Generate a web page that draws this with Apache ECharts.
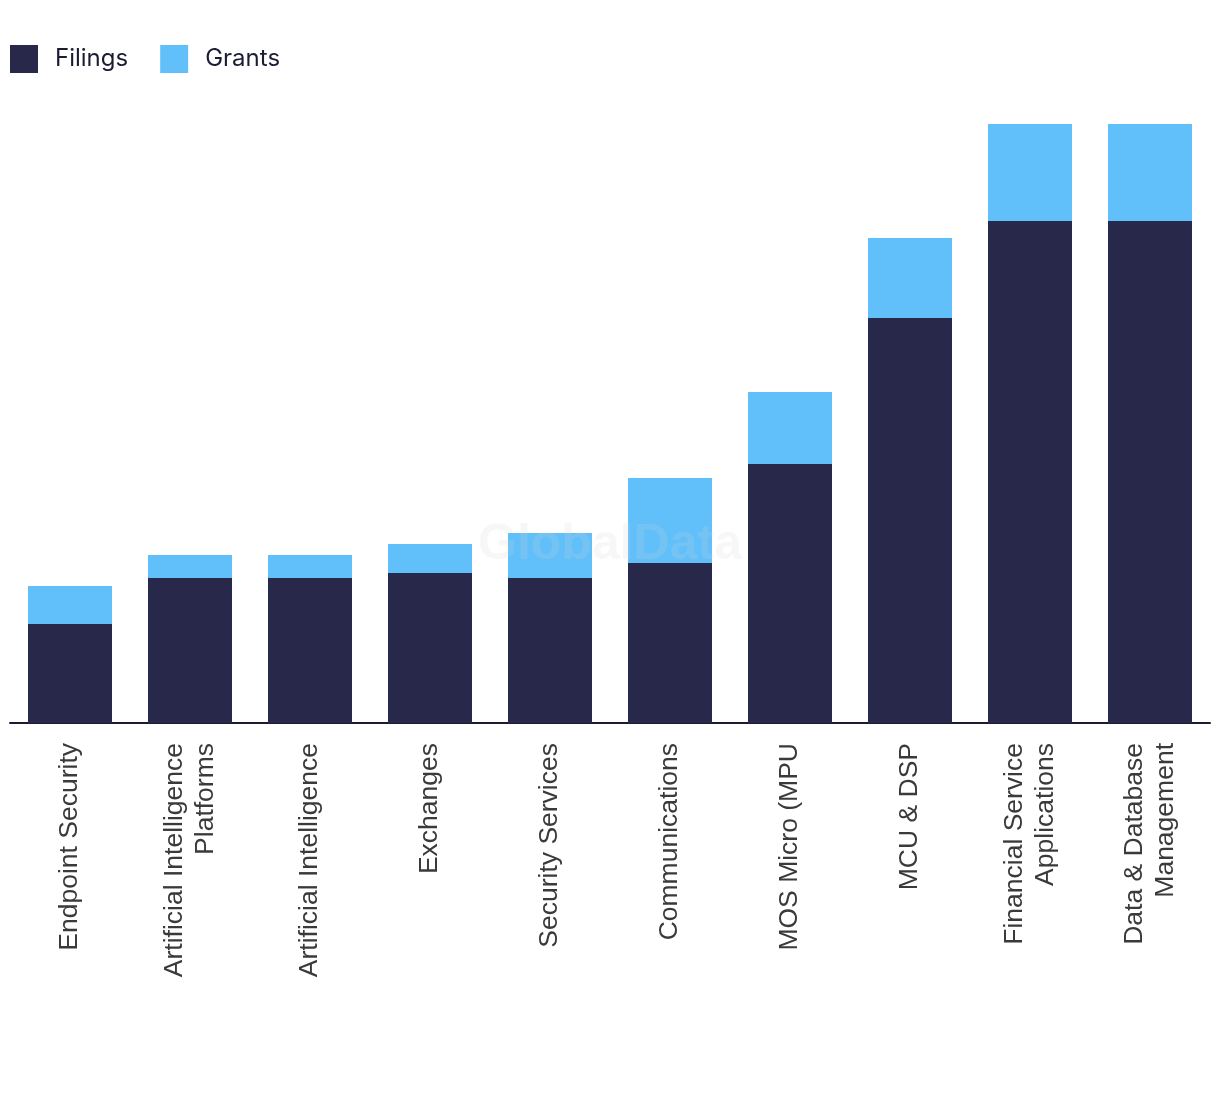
<!DOCTYPE html>
<html>
<head>
<meta charset="utf-8">
<script src="https://cdn.jsdelivr.net/npm/echarts@6/dist/echarts.min.js"></script>
<style>html,body{margin:0;padding:0;background:#fff}#c{width:1220px;height:1094px}</style>
</head>
<body>
<div id="c"></div>
<script>
const categories = ["Endpoint Security","Artificial Intelligence\nPlatforms","Artificial Intelligence","Exchanges","Security Services","Communications","MOS Micro (MPU","MCU & DSP","Financial Service\nApplications","Data & Database\nManagement"];
const filings = [99,145,145,150,145,160,259,405,502,502];
const grants = [38,23,23,29,45,85,72,80,97,97];

const chart = echarts.init(document.getElementById('c'));
chart.setOption({
  animation:false,
  backgroundColor:'#fff',
  legend:{left:10,top:45,padding:0,itemWidth:28,itemHeight:28,itemGap:32,
    textStyle:{fontFamily:'Inter',fontSize:24,color:'#1b1c33',padding:[0,0,0,12]},
    icon:'rect',data:['Filings','Grants']},
  grid:{left:10,right:10,top:124,bottom:371,containLabel:false},
  xAxis:{type:'category',data:categories,
    axisLine:{lineStyle:{color:'#1b1c33',width:2}},
    axisTick:{show:false},
    axisLabel:{rotate:90,interval:0,margin:20,fontFamily:'Liberation Sans',fontSize:26.5,color:'#3a3a3a',lineHeight:31}},
  yAxis:{type:'value',min:0,max:599,show:false,splitLine:{show:false}},
  series:[
    {name:'Filings',type:'bar',stack:'a',data:filings,barWidth:84,itemStyle:{color:'#27284a'}},
    {name:'Grants',type:'bar',stack:'a',data:grants,barWidth:84,itemStyle:{color:'#61c0fa'}}
  ],
  graphic:[{type:'text',left:'center',top:520,z:100,
    style:{text:'GlobalData',font:'bold 50px "Liberation Sans"',fill:'rgba(210,210,210,0.18)'}}]
});
</script>
</body>
</html>
